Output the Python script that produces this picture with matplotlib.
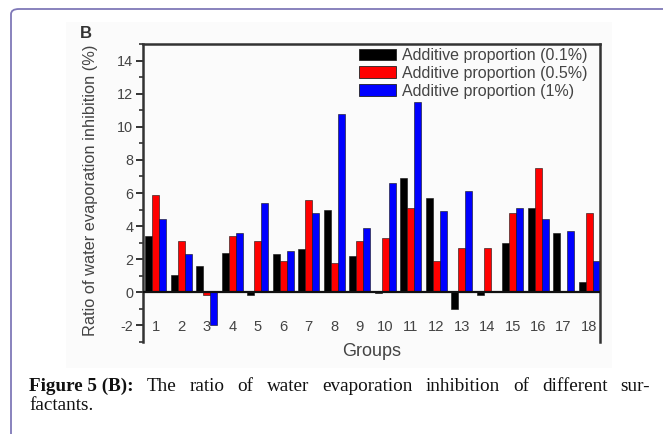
import matplotlib
matplotlib.use("Agg")
import matplotlib.pyplot as plt
import numpy as np
from matplotlib.patches import FancyBboxPatch, Rectangle, Patch
from matplotlib.ticker import MultipleLocator

plt.rcParams["axes.unicode_minus"] = False

groups = [str(i) for i in range(1, 19)]
p01 = [3.4, 1.05, 1.6, 2.4, -0.15, 2.3, 2.6, 5.0, 2.2, -0.05, 6.9, 5.7, -1.0, -0.15, 3.0, 5.1, 3.6, 0.6]
p05 = [5.9, 3.1, -0.15, 3.4, 3.1, 1.9, 5.6, 1.8, 3.1, 3.3, 5.1, 1.9, 2.7, 2.7, 4.8, 7.5, 0.05, 4.8]
p1 = [4.4, 2.3, -2.0, 3.6, 5.4, 2.5, 4.8, 10.8, 3.9, 6.6, 11.5, 4.9, 6.1, 0.05, 5.1, 4.4, 3.7, 1.9]
series_labels = ["Additive proportion (0.1%)", "Additive proportion (0.5%)", "Additive proportion (1%)"]
series_colors = ["#000000", "#ff0000", "#0000ff"]
yticks = list(range(-2, 15, 2))

W, H = 663, 434
fig = plt.figure(figsize=(W / 100, H / 100), dpi=100)
fig.patch.set_facecolor("white")

# page frame (top + left rule with rounded corner)
frame = FancyBboxPatch((11 / W, -0.2), 1.2, 1 - 9 / H + 0.2,
                       boxstyle="round,pad=0,rounding_size=0.012",
                       transform=fig.transFigure, fill=False,
                       edgecolor="#7f78b8", linewidth=1.3, clip_on=False, zorder=-2)
fig.patches.append(frame)

# faint image background
fig.patches.append(Rectangle((66 / W, 1 - 368 / H), (612 - 66) / W, (368 - 22) / H,
                             transform=fig.transFigure, facecolor="#fbfbfb",
                             edgecolor="none", zorder=-1))

tc = "#444444"
sans = "Liberation Sans"
ax = fig.add_axes([143 / W, 1 - 342 / H, (600 - 143) / W, (342 - 44) / H], zorder=1)
ax.set_facecolor("none")

x = np.arange(1, 19)
bw = 0.275
for off, vals, col, lab in zip([-bw, 0, bw], [p01, p05, p1], series_colors, series_labels):
    ax.bar(x + off, vals, width=bw, color=col, edgecolor="#111111", linewidth=0.4, label=lab, zorder=2)

ax.axhline(0, color="#111111", lw=1.6, zorder=3)
ax.set_xlim(0.49, 18.43)
ax.set_ylim(-3, 15)

for s in ["left", "top", "right"]:
    ax.spines[s].set_linewidth(1.8)
    ax.spines[s].set_color("#333333")
ax.spines["bottom"].set_visible(False)

ax.set_yticks(yticks)
ax.yaxis.set_minor_locator(MultipleLocator(1))
ax.tick_params(axis="y", which="major", length=5, width=1.4, color="#333333",
               labelsize=10.4, labelcolor=tc, pad=2)
ax.tick_params(axis="y", which="minor", length=3, width=1.2, color="#333333")
for t in ax.get_yticklabels():
    t.set_fontfamily(sans)

ax.set_xticks(x)
ax.set_xticklabels(groups, fontfamily=sans)
ax.tick_params(axis="x", length=0, labelsize=10.6, labelcolor=tc, pad=-16)

ax.set_ylabel("Ratio of water evaporation inhibition (%)", fontsize=11.8,
              color=tc, fontfamily=sans, labelpad=2)
ax.yaxis.set_label_coords(-(143 - 98) / (600 - 143), (342 - 190) / (342 - 44))
fig.text(372 / W, 1 - 352 / H, "Groups", ha="center", va="center", fontsize=13,
         color=tc, fontfamily=sans)
fig.text(80 / W, 1 - 34 / H, "B", ha="left", va="center", fontsize=12, fontweight="bold",
         color="#333333", fontfamily=sans)

handles = [Patch(facecolor=c, edgecolor="#222222", linewidth=0.6) for c in series_colors]
leg = ax.legend(handles, series_labels, loc="upper right", bbox_to_anchor=(0.982, 1.0),
                frameon=False, handlelength=2.3, handleheight=0.75, handletextpad=0.4,
                labelspacing=0.18, borderaxespad=0.0, borderpad=0.25,
                prop={"family": sans, "size": 11.5})
for t in leg.get_texts():
    t.set_color(tc)

serif = "Liberation Serif"
fs = 13.8
y1 = 1 - 391 / H
y2 = 1 - 410 / H
t_bold = fig.text(29 / W, y1, "Figure 5 (B):", fontsize=fs, fontweight="bold",
                  fontfamily=serif, va="baseline", color="#111111")
fig.canvas.draw()
r = fig.canvas.get_renderer()
bb = t_bold.get_window_extent(r)
rest = "The ratio of water evaporation inhibition of different sur-".split(" ")
right_edge = 650
words = [fig.text(0, y1, w, fontsize=fs, fontfamily=serif, va="baseline", color="#111111") for w in rest]
widths = [w.get_window_extent(r).width for w in words]
start = bb.x1
gap = (right_edge - start - sum(widths)) / len(words)
cur = start + gap
for w, wd in zip(words, widths):
    w.set_x(cur / W)
    cur += wd + gap
fig.text(29 / W, y2, "factants.", fontsize=fs, fontfamily=serif, va="baseline", color="#111111")

fig.savefig("out.png", dpi=100)
